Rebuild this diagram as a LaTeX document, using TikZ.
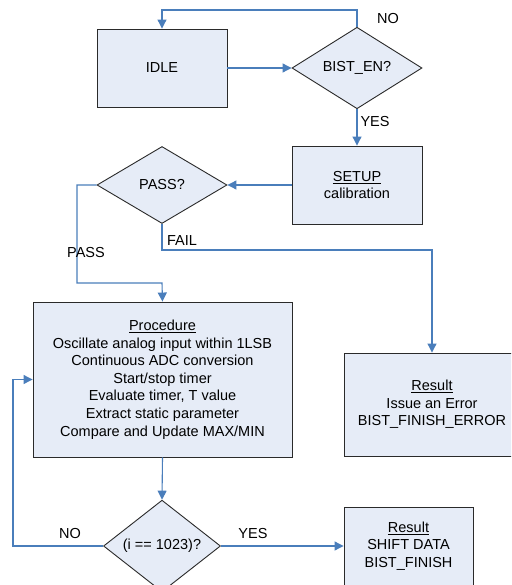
\documentclass[tikz,border=0pt]{standalone}
\usepackage{fontspec}
\setmainfont{Liberation Sans}
\usetikzlibrary{shapes.geometric,arrows.meta}
\definecolor{boxfill}{HTML}{E6ECF7}
\definecolor{flowblue}{HTML}{4A7EBB}
\definecolor{edgegray}{HTML}{2A2A2A}
\tikzset{
  base/.style={draw=edgegray, line width=0.9pt, fill=boxfill, inner sep=0pt,
               align=center, font=\fontsize{14.5}{17.6}\selectfont},
  stepbox/.style={base, rectangle},
  choice/.style={base, diamond},
  flow/.style={draw=flowblue, line width=1.1pt,
               -{Triangle[length=9pt,width=9pt]}},
  lbl/.style={font=\fontsize{14.5}{17.6}\selectfont, inner sep=0pt}
}
\begin{document}
\begin{tikzpicture}[x=1pt,y=-1pt]
\useasboundingbox (0,0) rectangle (511,585);
\clip (0,0) rectangle (511,585);
\fill[white] (0,0) rectangle (511,585);

% states and decisions
\node[stepbox, minimum width=130pt, minimum height=78pt] (idle) at (162,68) {IDLE};
\node[choice, minimum width=130pt, minimum height=77pt] (bist) at (357,68) {BIST\_EN?};
\node[stepbox, minimum width=130pt, minimum height=78pt] (setup) at (357,185)
  {\underline{SETUP}\\calibration};
\node[choice, minimum width=130pt, minimum height=77pt] (pass) at (162,185) {PASS?};
\node[stepbox, minimum width=259pt, minimum height=155pt] (proc) at (162.5,379.5)
  {\underline{Procedure}\\Oscillate analog input within 1LSB\\Continuous ADC conversion\\
   Start/stop timer\\Evaluate timer, T value\\Extract static parameter\\Compare and Update MAX/MIN};
\node[stepbox, minimum width=176pt, minimum height=103pt] (err) at (432,404.5)
  {\underline{Result}\\Issue an Error\\BIST\_FINISH\_ERROR};
\node[choice, minimum width=117pt, minimum height=84pt] (iter) at (162,546) {(i == 1023)?};
\node[stepbox, minimum width=129pt, minimum height=78pt] (fin) at (408.5,546)
  {\underline{Result}\\SHIFT DATA\\BIST\_FINISH};

% bend points of the routed connectors
\coordinate (notop) at (357,10);
\coordinate (passleft) at (77,185);
\coordinate (passdown) at (162,283);
\coordinate (failturn) at (432,250);
\coordinate (noleft) at (13,546);

% connectors
\draw[flow] (bist.north) |- (notop) -| (idle.north);
\draw[flow] (idle.east) -- (bist.west);
\draw[flow] (bist.south) -- (setup.north);
\draw[flow] (setup.west) -- (pass.east);
\draw[flow] (pass.west) -- (passleft) |- (passdown) -- (proc.north);
\draw[flow] (pass.south) |- (failturn) -- (err.north);
\draw[flow] (proc.south) -- (iter.north);
\draw[flow] (iter.west) -- (noleft) |- (proc.west);
\draw[flow] (iter.east) -- (fin.west);

% branch labels
\node[lbl] (lno1) at (388,19) {NO};
\node[lbl] (lyes1) at (375,122) {YES};
\node[lbl] (lpass) at (86,253) {PASS};
\node[lbl] (lfail) at (182,241) {FAIL};
\node[lbl] (lno2) at (70,534) {NO};
\node[lbl] (lyes2) at (253,534) {YES};
\end{tikzpicture}
\end{document}
